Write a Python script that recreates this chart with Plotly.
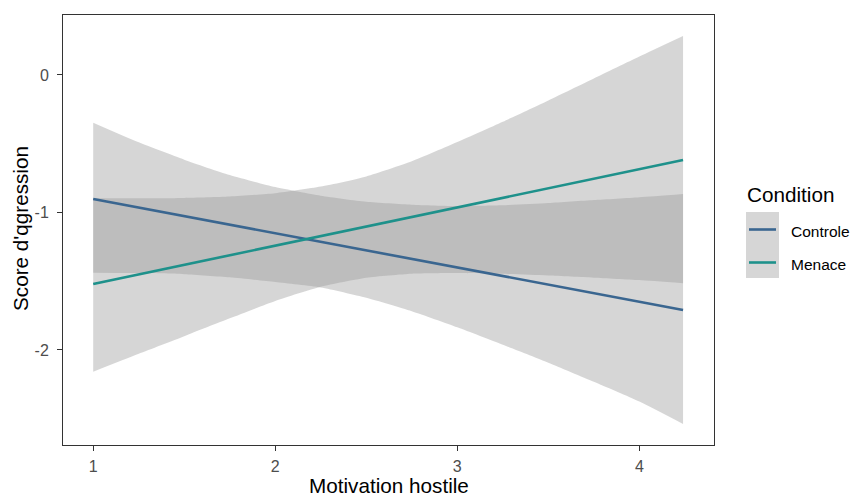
import plotly.graph_objects as go

# ---- data ----
x_vals = [1.0, 1.25, 1.5, 1.75, 2.0, 2.25, 2.5, 2.75, 3.0, 3.25, 3.5, 3.75, 4.0, 4.24]
controle_fit = [-0.902, -0.964, -1.026, -1.088, -1.151, -1.213, -1.275,
                -1.337, -1.399, -1.462, -1.524, -1.586, -1.649, -1.709]
controle_low = [-1.438, -1.441, -1.449, -1.472, -1.505, -1.545, -1.620,
                -1.718, -1.835, -1.962, -2.092, -2.231, -2.375, -2.538]
controle_high = [-0.347, -0.490, -0.616, -0.728, -0.815, -0.878, -0.922,
                 -0.943, -0.953, -0.948, -0.932, -0.910, -0.889, -0.865]
menace_fit = [-1.520, -1.450, -1.381, -1.311, -1.242, -1.172, -1.103,
              -1.033, -0.964, -0.894, -0.825, -0.755, -0.685, -0.618]
menace_low = [-2.158, -2.028, -1.900, -1.770, -1.643, -1.540, -1.474,
              -1.445, -1.440, -1.446, -1.458, -1.474, -1.492, -1.515]
menace_high = [-0.897, -0.897, -0.894, -0.884, -0.860, -0.812, -0.738,
               -0.628, -0.488, -0.340, -0.185, -0.025, 0.135, 0.284]

x_ticks = [1, 2, 3, 4]
y_ticks = [0, -1, -2]
series_names = ["Controle", "Menace"]
x_title = "Motivation hostile"
y_title = "Score d'qgression"
legend_title = "Condition"
colors = {"Controle": "#3A6690", "Menace": "#1E918B"}
ribbon_fill = "rgba(153,153,153,0.40)"
FONT = "Liberation Sans, Arial, sans-serif"

fig = go.Figure()

for name, lo, hi in [("Controle", controle_low, controle_high),
                     ("Menace", menace_low, menace_high)]:
    fig.add_trace(go.Scatter(x=x_vals, y=lo, mode="lines",
                             line=dict(width=0, shape="spline", smoothing=0.6),
                             showlegend=False, hoverinfo="skip"))
    fig.add_trace(go.Scatter(x=x_vals, y=hi, mode="lines", fill="tonexty",
                             fillcolor=ribbon_fill,
                             line=dict(width=0, shape="spline", smoothing=0.6),
                             showlegend=False, hoverinfo="skip"))

for name, fit in [("Controle", controle_fit), ("Menace", menace_fit)]:
    fig.add_trace(go.Scatter(x=x_vals, y=fit, mode="lines", name=name,
                             line=dict(color=colors[name], width=2.6),
                             showlegend=False))

# ---- page-pixel helpers (panel box in page pixels -> paper coords) ----
L, R, T, B = 63, 714, 15, 445
def px(xp):
    return (xp - L) / (R - L)
def py(yp):
    return (B - yp) / (B - T)

shapes = [dict(type="rect", xref="paper", yref="paper",
               x0=px(746), x1=px(779), y0=py(278), y1=py(212),
               fillcolor="#D6D6D6", line=dict(width=0), layer="above")]
annotations = [
    dict(text=legend_title, xref="paper", yref="paper",
         x=px(745), y=py(194), xanchor="left", yanchor="middle",
         showarrow=False, font=dict(family=FONT, size=20.7, color="black")),
    dict(text=x_title, xref="paper", yref="paper",
         x=px(388.5), y=py(485), xanchor="center", yanchor="middle",
         showarrow=False, font=dict(family=FONT, size=20.7, color="black")),
    dict(text=y_title, xref="paper", yref="paper", textangle=-90,
         x=px(21), y=py(229), xanchor="center", yanchor="middle",
         showarrow=False, font=dict(family=FONT, size=20.7, color="black")),
]
for name, yp in zip(series_names, [229.5, 262.5]):
    shapes.append(dict(type="line", xref="paper", yref="paper",
                       x0=px(749), x1=px(776), y0=py(yp), y1=py(yp),
                       line=dict(color=colors[name], width=2.6), layer="above"))
    annotations.append(dict(text=name, xref="paper", yref="paper",
                            x=px(789), y=py(yp + 1.5), xanchor="left", yanchor="middle",
                            showarrow=False,
                            font=dict(family=FONT, size=15.5, color="black")))

# page body has an 8px margin: the figure is shifted by (8, 8)
OFF = 8
W, H = 859 - OFF, 496 - OFF
fig.update_layout(
    width=W, height=H,
    margin=dict(l=L - OFF, r=W + OFF - R, t=T - OFF, b=H + OFF - B),
    paper_bgcolor="white", plot_bgcolor="white",
    font=dict(family=FONT, color="black"),
    shapes=shapes, annotations=annotations,
    showlegend=False,
    xaxis=dict(range=[0.834, 4.410], tickvals=x_ticks, ticktext=[str(v) for v in x_ticks],
               automargin=False,
               showgrid=False, zeroline=False, showline=True, mirror=True,
               linecolor="#333333", linewidth=1,
               ticks="outside", ticklen=5, tickcolor="#333333", tickwidth=1,
               ticklabelstandoff=2,
               tickfont=dict(family=FONT, size=16, color="#4D4D4D")),
    yaxis=dict(range=[-2.691, 0.436], tickvals=y_ticks, ticktext=[str(v) for v in y_ticks],
               automargin=False,
               showgrid=False, zeroline=False, showline=True, mirror=True,
               linecolor="#333333", linewidth=1,
               ticks="outside", ticklen=5, tickcolor="#333333", tickwidth=1,
               ticklabelstandoff=5,
               tickfont=dict(family=FONT, size=16, color="#4D4D4D")),
)

fig.write_html("out.html")
